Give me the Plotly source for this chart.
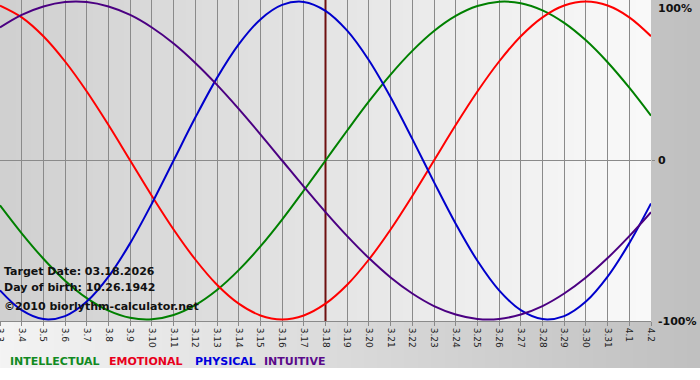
import base64
import struct
import zlib
import plotly.graph_objects as go

# ---------------- data ----------------
days = ["3.3", "3.4", "3.5", "3.6", "3.7", "3.8", "3.9", "3.10", "3.11", "3.12",
        "3.13", "3.14", "3.15", "3.16", "3.17", "3.18", "3.19", "3.20", "3.21",
        "3.22", "3.23", "3.24", "3.25", "3.26", "3.27", "3.28", "3.29", "3.30",
        "3.31", "4.1", "4.2"]

intellectual = [-0.282, -0.458, -0.618, -0.756, -0.866, -0.945, -0.990, -0.999,
                -0.972, -0.910, -0.815, -0.690, -0.541, -0.372, -0.189, 0.000,
                0.189, 0.372, 0.541, 0.690, 0.815, 0.910, 0.972, 0.999, 0.990,
                0.945, 0.866, 0.756, 0.618, 0.458, 0.282]

emotional = [0.975, 0.901, 0.782, 0.623, 0.434, 0.223, 0.000, -0.223, -0.434,
             -0.623, -0.782, -0.901, -0.975, -1.000, -0.975, -0.901, -0.782,
             -0.623, -0.434, -0.223, 0.000, 0.223, 0.434, 0.623, 0.782, 0.901,
             0.975, 1.000, 0.975, 0.901, 0.782]

physical = [-0.817, -0.942, -0.998, -0.979, -0.888, -0.731, -0.520, -0.270,
            0.000, 0.270, 0.520, 0.731, 0.888, 0.979, 0.998, 0.942, 0.817,
            0.631, 0.398, 0.136, -0.136, -0.398, -0.631, -0.817, -0.942,
            -0.998, -0.979, -0.888, -0.731, -0.520, -0.270]

intuitive = [0.837, 0.916, 0.969, 0.997, 0.997, 0.969, 0.916, 0.837, 0.736,
             0.614, 0.476, 0.325, 0.165, 0.000, -0.165, -0.325, -0.476, -0.614,
             -0.736, -0.837, -0.916, -0.969, -0.997, -0.997, -0.969, -0.916,
             -0.837, -0.736, -0.614, -0.476, -0.325]

series_names = ["INTELLECTUAL", "EMOTIONAL", "PHYSICAL", "INTUITIVE"]
series_colors = ["#008000", "#ff0000", "#0000cc", "#4b0082"]
legend_colors = ["#118a22", "#e8001c", "#0000dd", "#5a0a8a"]
target_day = "3.18"
info_lines = ["Target Date: 03.18.2026", "Day of birth: 10.26.1942",
              "\u00a92010 biorlythm-calculator.net"]
y_labels = ["100%", "0", "-100%"]

# ---------------- geometry ----------------
W, H = 700, 380
PL, PR, PT, PB = 0, 651, 0, 321  # plot area in pixels


def px(x):
    return (x - PL) / (PR - PL)


def py(y):
    return 1 - (y - PT) / (PB - PT)


# ---------------- background gradient image ----------------
def make_png():
    rows = []
    for y in range(H):
        row = bytearray([0])
        for x in range(W):
            if x < PR and y < PB:
                v = int(208 + (250 - 208) * x / PR)
            elif y < 368:
                v = int(244 - (244 - 192) * x / W)
            else:
                v = 255
            row += bytes((v, v, v))
        rows.append(bytes(row))
    raw = b"".join(rows)

    def chunk(tag, data):
        c = struct.pack(">I", len(data)) + tag + data
        return c + struct.pack(">I", zlib.crc32(tag + data) & 0xffffffff)

    png = b"\x89PNG\r\n\x1a\n"
    png += chunk(b"IHDR", struct.pack(">IIBBBBB", W, H, 8, 2, 0, 0, 0))
    png += chunk(b"IDAT", zlib.compress(raw, 9))
    png += chunk(b"IEND", b"")
    return "data:image/png;base64," + base64.b64encode(png).decode()


fig = go.Figure()

x_idx = list(range(len(days)))
t_idx = days.index(target_day)

# target-date marker drawn as a trace so it sits above the grid
fig.add_trace(go.Scatter(x=[t_idx, t_idx], y=[-1.01, 1.01], mode="lines",
                         line=dict(color="#6e1010", width=2),
                         showlegend=False, hoverinfo="skip"))

for name, vals, col in zip(series_names,
                           [intellectual, emotional, physical, intuitive],
                           series_colors):
    fig.add_trace(go.Scatter(x=x_idx, y=vals, mode="lines", name=name,
                             line=dict(color=col, width=2, shape="spline"),
                             showlegend=False, hoverinfo="skip"))

annotations = []
for i, t in enumerate(info_lines):
    annotations.append(dict(text="<b>%s</b>" % t, x=px(2), y=py([271, 287, 306][i]),
                            xref="paper", yref="paper", xanchor="left",
                            yanchor="middle", showarrow=False,
                            font=dict(family="DejaVu Sans", size=11, color="#111111")))

for t, yy in zip(y_labels, [8, 161, 322]):
    annotations.append(dict(text="<b>%s</b>" % t, x=px(656), y=py(yy),
                            xref="paper", yref="paper", xanchor="left",
                            yanchor="middle", showarrow=False,
                            font=dict(family="DejaVu Sans", size=11, color="#111111")))

for t, c, xx in zip(series_names, legend_colors, [8, 107, 193, 262]):
    annotations.append(dict(text="<b>%s</b>" % t, x=px(xx), y=py(361),
                            xref="paper", yref="paper", xanchor="left",
                            yanchor="middle", showarrow=False,
                            font=dict(family="DejaVu Sans", size=11, color=c)))

fig.update_layout(
    width=W, height=H,
    margin=dict(l=PL, r=W - PR, t=PT, b=H - PB, pad=0, autoexpand=False),
    paper_bgcolor="white",
    plot_bgcolor="rgba(0,0,0,0)",
    annotations=annotations,
    images=[dict(source=make_png(), xref="paper", yref="paper", x=0, y=1,
                 sizex=W / (PR - PL), sizey=H / (PB - PT), xanchor="left",
                 yanchor="top", sizing="stretch", layer="below")],
    xaxis=dict(range=[0, len(days) - 1], tickvals=x_idx, ticktext=days,
               showgrid=True, automargin=False, ticklabeloverflow="allow",
               gridcolor="#8a8a8a", gridwidth=1, showline=True,
               linecolor="#8a8a8a", linewidth=1, ticks="outside", ticklen=4,
               tickcolor="#8a8a8a", tickangle=90,
               tickfont=dict(family="DejaVu Sans", size=9, color="#222222"),
               zeroline=False, fixedrange=True),
    yaxis=dict(range=[-1.01, 1.01], tickvals=[0], showgrid=True, automargin=False,
               gridcolor="#8a8a8a", gridwidth=1, showticklabels=False,
               zeroline=False, side="right", ticks="outside", ticklen=3,
               tickcolor="#8a8a8a", fixedrange=True),
)

fig.write_html("out.html",
               config={"displayModeBar": False, "staticPlot": True},
               post_script="document.body.style.margin='0px';"
                           "document.body.style.overflow='hidden';")
